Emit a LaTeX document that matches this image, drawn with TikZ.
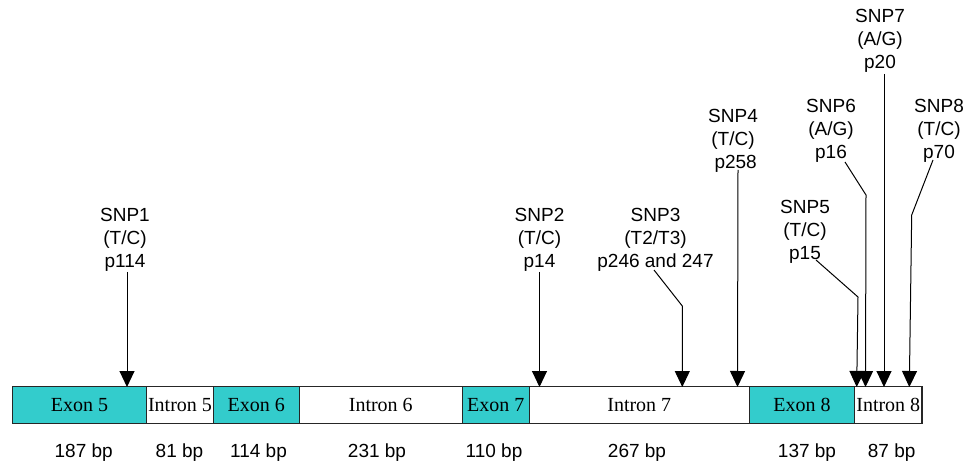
\documentclass[tikz,border=0pt]{standalone}
\usepackage{fontspec}
\setmainfont{Liberation Serif}
\newfontfamily\arialf{Liberation Sans}
\usetikzlibrary{arrows.meta}
\definecolor{exoncol}{RGB}{51,204,204}
\begin{document}
\begin{tikzpicture}[x=1pt,y=-1pt,
  seg/.style={draw=black!85, line width=1.2pt, minimum height=36.6pt, inner sep=0pt, font=\fontsize{20}{24}\selectfont, anchor=center},
  exon/.style={seg, fill=exoncol},
  intron/.style={seg, fill=white},
  snp/.style={font=\arialf\fontsize{19}{23}\selectfont, align=center, inner sep=0pt, anchor=base},
  bplab/.style={font=\arialf\fontsize{19}{23}\selectfont, inner sep=0pt, anchor=base},
  snparrow/.style={line width=1pt, -{Triangle[length=16pt,width=15pt]}}]
\useasboundingbox (0,0) rectangle (978,465);
% gene bar
\node[exon,   minimum width=134.4pt] (ex5) at (79.5,405)  {Exon 5};
\node[intron, minimum width=66.6pt]  (in5) at (180,405)   {Intron 5};
\node[exon,   minimum width=86pt]    (ex6) at (256.3,405) {Exon 6};
\node[intron, minimum width=163pt]   (in6) at (380.8,405) {Intron 6};
\node[exon,   minimum width=67pt]    (ex7) at (495.8,405) {Exon 7};
\node[intron, minimum width=220pt]   (in7) at (639.3,405) {Intron 7};
\node[exon,   minimum width=105.4pt] (ex8) at (802,405)   {Exon 8};
\node[intron, minimum width=67.3pt]  (in8) at (888.3,405) {Intron 8};
% sizes
\node[bplab] (bp5) at (83.7,457)  {187 bp};
\node[bplab] (bpi5) at (179.5,457) {81 bp};
\node[bplab] (bp6) at (258.5,457) {114 bp};
\node[bplab] (bpi6) at (377,457)  {231 bp};
\node[bplab] (bp7) at (494,457)   {110 bp};
\node[bplab] (bpi7) at (637,457)  {267 bp};
\node[bplab] (bp8) at (807,457)   {137 bp};
\node[bplab] (bpi8) at (891.7,457) {87 bp};
% SNP labels (anchor = baseline of last line)
\node[snp] (snp1) at (125,267.7) {SNP1\\(T/C)\\p114};
\node[snp] (snp2) at (539.5,267.7) {SNP2\\(T/C)\\p14};
\node[snp] (snp3) at (655.5,267.7) {SNP3\\(T2/T3)\\p246 and 247};
\node[snp] (snp4) at (733,169) {SNP4\\(T/C)\\\ p258};
\node[snp] (snp5) at (805,259.5) {SNP5\\(T/C)\\p15};
\node[snp] (snp6) at (831,158.5) {SNP6\\(A/G)\\p16};
\node[snp] (snp7) at (880,68.3) {SNP7\\(A/G)\\p20};
\node[snp] (snp8) at (939,158.5) {SNP8\\(T/C)\\p70};
% connector start points, bends and targets
\coordinate (a1) at (127,272);   \coordinate (t1) at (127,387);
\coordinate (a2) at (539.5,272); \coordinate (t2) at (539.5,387);
\coordinate (a3) at (654,270);   \coordinate (b3) at (682.3,306);  \coordinate (t3) at (682.3,387);
\coordinate (a4) at (738,170);   \coordinate (t4) at (737.5,387);
\coordinate (a5) at (816,260);   \coordinate (b5) at (858,297);    \coordinate (t5) at (856.7,387);
\coordinate (a6) at (845,162);   \coordinate (b6) at (866,195);    \coordinate (t6) at (865.5,387);
\coordinate (a7) at (884,74);    \coordinate (t7) at (884,387);
\coordinate (a8) at (933,160);   \coordinate (b8) at (911.7,215);  \coordinate (t8) at (909.3,387);
\draw[snparrow] (a1) -- (t1);
\draw[snparrow] (a2) -- (t2);
\draw[snparrow] (a3) -- (b3) -- (t3);
\draw[snparrow] (a4) -- (t4);
\draw[snparrow] (a5) -- (b5) -- (t5);
\draw[snparrow] (a6) -- (b6) -- (t6);
\draw[snparrow] (a7) -- (t7);
\draw[snparrow] (a8) -- (b8) -- (t8);
\end{tikzpicture}
\end{document}
